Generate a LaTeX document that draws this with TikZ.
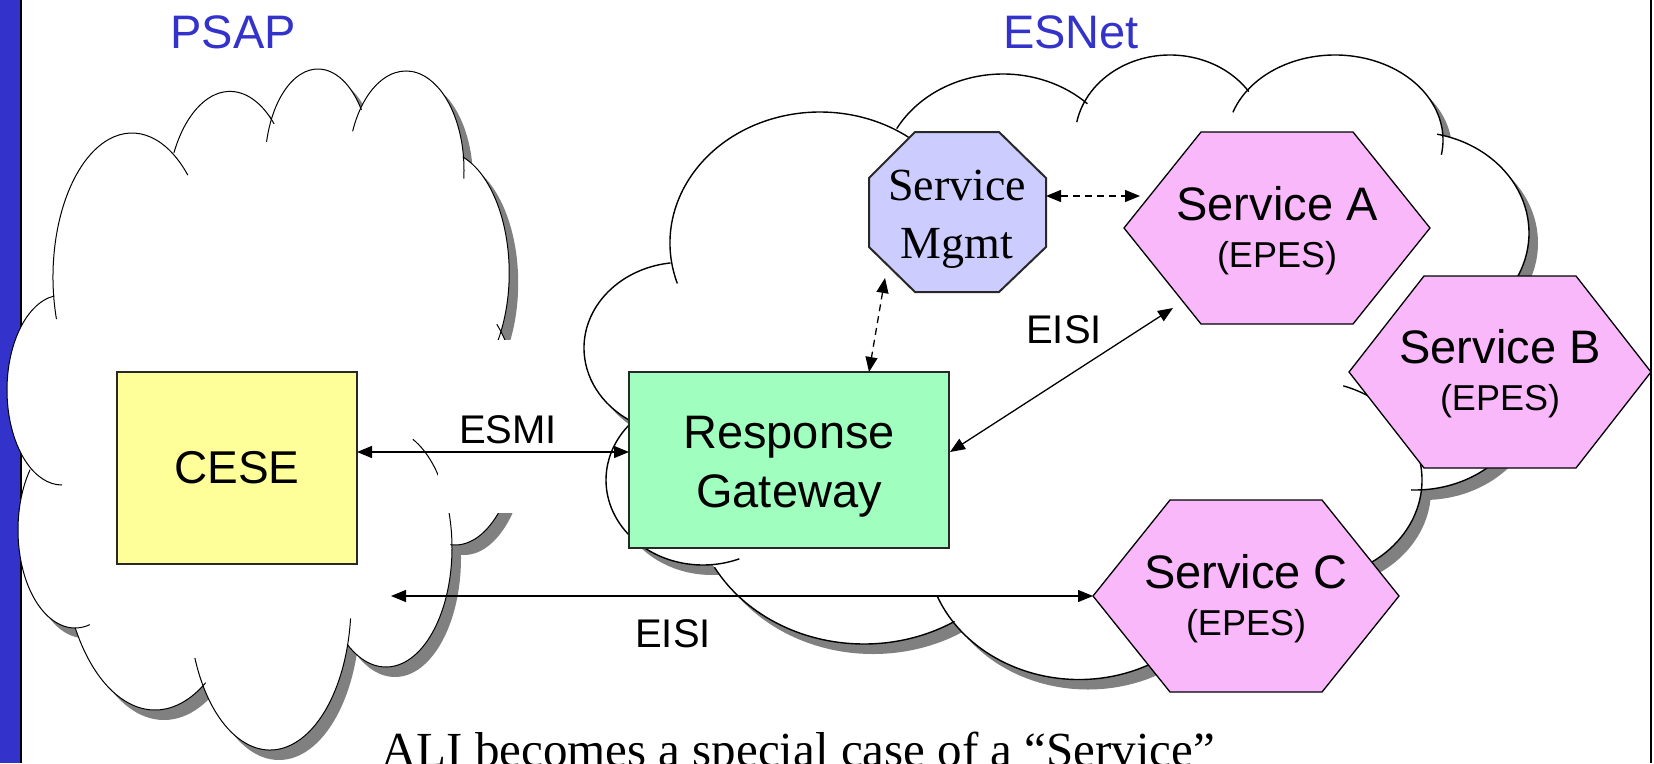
\documentclass[tikz,border=0pt]{standalone}
\usepackage{fontspec}
\setmainfont{Liberation Serif}
\newfontfamily\arialfont{Liberation Sans}
\usetikzlibrary{arrows.meta}
\definecolor{slideblue}{RGB}{51,51,204}
\definecolor{cesefill}{RGB}{255,255,153}
\definecolor{rgfill}{RGB}{160,255,190}
\definecolor{smfill}{RGB}{204,204,255}
\definecolor{hexfill}{RGB}{248,184,250}
\definecolor{shadowgray}{RGB}{128,128,128}
\definecolor{boxline}{RGB}{40,40,40}
\def\psaplobes{132/277/79/144/163/315, 230/207/63.5/115.6/208/314, 318/165/53/96/194/325, 406/170/58/99/203/365, 442/273/67.2/122/288/420, 455/420/65/125/94/-50, 386/548/66/119/126/-66, 270/603/81/147/158/6, 155/541/93/169/149/57, 75/530/57/98/218/75, 62/390/55/95/262/90}
\def\esnetlobes{820/243/150/131/162/310, 682.5/348/98.5/85.7/263/115, 703/480/97/85/225/68, 864/495/171/149/151/58, 1079/546/153/133.5/158/0, 1308/480/114/99/120/-72, 1415/390/115/100/92/20, 1413/233/116/101/282/395, 1335/140/108/85/199/370, 1170/138/95/83/191/326, 1003/180/121.5/106/209/314}
\begin{document}
\begin{tikzpicture}[x=1pt,y=-1pt,
  psapline/.style={line width=1pt},
  esline/.style={line width=1.4pt},
  arr/.style={line width=1.3pt,{Triangle[length=15pt,width=12pt]}-{Triangle[length=15pt,width=12pt]}},
  dasharr/.style={arr,dash pattern=on 7pt off 5pt},
  lbl/.style={font=\arialfont\fontsize{40}{48}\selectfont,inner sep=0pt,anchor=base},
  title/.style={font=\arialfont\fontsize{47}{56}\selectfont,text=slideblue,inner sep=0pt,anchor=base},
  svc/.style={font=\arialfont\fontsize{47}{56}\selectfont,inner sep=0pt,anchor=base},
  epes/.style={font=\arialfont\fontsize{36}{44}\selectfont,inner sep=0pt,anchor=base},
  serif/.style={font=\fontsize{46}{56}\selectfont,inner sep=0pt,anchor=base},
  sqbox/.style={draw=boxline,line width=2pt,inner sep=0pt},
  hexshape/.style={draw=black,line width=1.3pt,fill=hexfill,line join=miter},
]
\useasboundingbox (0,0) rectangle (1654,763);
\fill[white] (0,0) rectangle (1654,763);
% slide frame
\fill[slideblue] (0,0) rectangle (20,763);
\draw[line width=1.5pt] (21,0) -- (21,763);
\draw[line width=1.5pt] (1651,0) -- (1651,763);

% ---------------- PSAP cloud ----------------
\fill[shadowgray,shift={(9,10)}] \foreach \cx/\cy/\rx/\ry/\a/\b in \psaplobes {(\cx,\cy) ellipse [x radius=\rx,y radius=\ry]};
\fill[shadowgray,shift={(9,10)}] (132,277) -- (230,207) -- (318,165) -- (406,170) -- (442,273) -- (455,420) -- (386,548) -- (270,603) -- (155,541) -- (75,530) -- (62,390) -- cycle;
\fill[white] \foreach \cx/\cy/\rx/\ry/\a/\b in \psaplobes {(\cx,\cy) ellipse [x radius=\rx,y radius=\ry]};
\fill[white] (132,277) -- (230,207) -- (318,165) -- (406,170) -- (442,273) -- (455,420) -- (386,548) -- (270,603) -- (155,541) -- (75,530) -- (62,390) -- cycle;
\foreach \cx/\cy/\rx/\ry/\a/\b in \psaplobes {
  \pgfmathsetmacro\sx{\cx+\rx*cos(\a)}
  \pgfmathsetmacro\sy{\cy+\ry*sin(\a)}
  \draw[psapline] (\sx,\sy) arc[start angle=\a,end angle=\b,x radius=\rx,y radius=\ry];
}
% label area
\fill[white] (438,340) rectangle (600,513);

% ---------------- ESNet cloud ----------------
\fill[shadowgray,shift={(9,10)}] \foreach \cx/\cy/\rx/\ry/\a/\b in \esnetlobes {(\cx,\cy) ellipse [x radius=\rx,y radius=\ry]};
\fill[shadowgray,shift={(9,10)}] (682.5,348) -- (820,243) -- (1003,180) -- (1170,138) -- (1335,140) -- (1413,233) -- (1415,390) -- (1308,480) -- (1079,546) -- (864,495) -- (703,480) -- cycle;
\fill[white] \foreach \cx/\cy/\rx/\ry/\a/\b in \esnetlobes {(\cx,\cy) ellipse [x radius=\rx,y radius=\ry]};
\fill[white] (682.5,348) -- (820,243) -- (1003,180) -- (1170,138) -- (1335,140) -- (1413,233) -- (1415,390) -- (1308,480) -- (1079,546) -- (864,495) -- (703,480) -- cycle;
\foreach \cx/\cy/\rx/\ry/\a/\b in \esnetlobes {
  \pgfmathsetmacro\sx{\cx+\rx*cos(\a)}
  \pgfmathsetmacro\sy{\cy+\ry*sin(\a)}
  \draw[esline] (\sx,\sy) arc[start angle=\a,end angle=\b,x radius=\rx,y radius=\ry];
}

% ---------------- titles ----------------
\node[title] (psap) at (233,48) {PSAP};
\node[title] (esnet) at (1071,48) {ESNet};

% ---------------- boxes ----------------
\node[sqbox,fill=cesefill,minimum width=240pt,minimum height=192pt,
      font=\arialfont\fontsize{46}{56}\selectfont] (cese) at (237,468) {CESE};
\node[sqbox,fill=rgfill,minimum width=320pt,minimum height=176pt] (rg) at (789,460) {};
\node[svc] (rg1) at (789,448) {Response};
\node[svc] (rg2) at (789,507) {Gateway};

% Service Mgmt octagon
\path[draw=boxline,line width=2pt,fill=smfill] (915,132) -- (999,132) -- (1046,178) -- (1046,247) -- (999,292) -- (915,292) -- (869,247) -- (869,178) -- cycle;
\node[serif] (sm1) at (957,200) {Service};
\node[serif] (sm2) at (957,258) {Mgmt};

% Service hexagons
\path[hexshape] (1124,228) -- (1201,132) -- (1353,132) -- (1430,228) -- (1353,324) -- (1201,324) -- cycle;
\node[svc] (sa1) at (1277,220) {Service A};
\node[epes] (sa2) at (1277,267) {(EPES)};
\path[hexshape] (1349,372) -- (1424,276) -- (1576,276) -- (1651,372) -- (1576,468) -- (1424,468) -- cycle;
\node[svc] (sb1) at (1500,363) {Service B};
\node[epes] (sb2) at (1500,410) {(EPES)};
\path[hexshape] (1093,596) -- (1170,500) -- (1322,500) -- (1399,596) -- (1322,692) -- (1170,692) -- cycle;
\node[svc] (sc1) at (1246,588) {Service C};
\node[epes] (sc2) at (1246,635) {(EPES)};

% ---------------- connector end points ----------------
\coordinate (esmiL) at (357,452);
\coordinate (esmiR) at (629,452);
\coordinate (eisiL) at (391,596);
\coordinate (scW) at (1093,596);
\coordinate (rgE) at (950,452);
\coordinate (saTip) at (1173,308);
\coordinate (smR) at (1046,196);
\coordinate (saL) at (1140,196);
\coordinate (smB) at (885,278);
\coordinate (rgT) at (869,372);

\draw[arr] (esmiL) -- (esmiR);
\draw[arr] (eisiL) -- (scW);
\draw[arr] (rgE) -- (saTip);
\draw[dasharr] (smR) -- (saL);
\draw[dasharr] (smB) -- (rgT);

% ---------------- labels ----------------
\node[lbl] (esmi) at (508,443) {ESMI};
\node[lbl] (eisi1) at (1064,343) {EISI};
\node[lbl] (eisi2) at (673,647) {EISI};

\node[anchor=base west,inner sep=0pt,font=\fontsize{49}{58}\selectfont] (caption) at (381,766) {ALI becomes a special case of a “Service”};
\end{tikzpicture}
\end{document}
